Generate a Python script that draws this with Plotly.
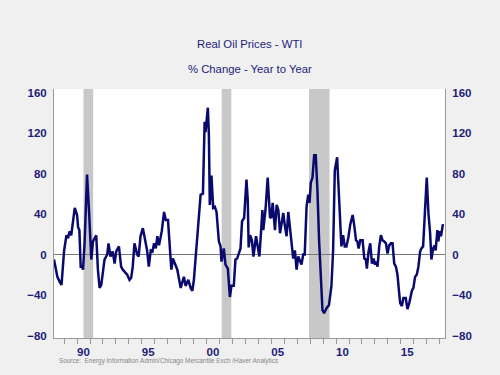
import plotly.graph_objects as go
import pandas as pd

# ---- data ----
years = [
    1988.22, 1988.48, 1988.66, 1988.80, 1989.00, 1989.18, 1989.30, 1989.43, 1989.55, 1989.64,
    1989.82, 1990.00, 1990.08, 1990.18, 1990.28, 1990.40, 1990.46, 1990.58, 1990.77, 1990.92,
    1991.10, 1991.23, 1991.48, 1991.61, 1991.74, 1991.87, 1992.00, 1992.12, 1992.33, 1992.43,
    1992.58, 1992.75, 1992.90, 1993.02, 1993.23, 1993.40, 1993.53, 1993.66, 1993.87, 1994.05,
    1994.18, 1994.30, 1994.43, 1994.64, 1994.75, 1994.90, 1995.08, 1995.20, 1995.41, 1995.54,
    1995.69, 1995.82, 1995.95, 1996.08, 1996.20, 1996.33, 1996.54, 1996.72, 1996.85, 1997.02,
    1997.15, 1997.28, 1997.40, 1997.58, 1997.74, 1998.00, 1998.25, 1998.38, 1998.59, 1998.77,
    1998.90, 1999.02, 1999.28, 1999.54, 1999.72, 1999.85, 1999.92, 2000.10, 2000.18, 2000.25,
    2000.38, 2000.51, 2000.64, 2000.77, 2000.95, 2001.08, 2001.15, 2001.33, 2001.46, 2001.64,
    2001.80, 2001.92, 2002.10, 2002.23, 2002.36, 2002.48, 2002.62, 2002.74, 2002.90, 2003.08,
    2003.18, 2003.25, 2003.36, 2003.50, 2003.62, 2003.82, 2003.95, 2004.08, 2004.20, 2004.31,
    2004.38, 2004.55, 2004.72, 2004.90, 2005.00, 2005.10, 2005.28, 2005.41, 2005.54, 2005.67,
    2005.80, 2005.92, 2006.05, 2006.18, 2006.31, 2006.43, 2006.56, 2006.69, 2006.82, 2006.95,
    2007.08, 2007.20, 2007.33, 2007.46, 2007.58, 2007.72, 2007.85, 2007.95, 2008.05, 2008.18,
    2008.31, 2008.43, 2008.56, 2008.69, 2008.82, 2008.95, 2009.08, 2009.26, 2009.45, 2009.64,
    2009.77, 2009.90, 2010.08, 2010.28, 2010.41, 2010.54, 2010.67, 2010.80, 2010.95, 2011.10,
    2011.28, 2011.41, 2011.54, 2011.64, 2011.74, 2011.87, 2012.05, 2012.18, 2012.30, 2012.38,
    2012.51, 2012.64, 2012.77, 2012.90, 2013.00, 2013.10, 2013.20, 2013.33, 2013.46, 2013.59,
    2013.72, 2013.85, 2013.97, 2014.10, 2014.23, 2014.36, 2014.49, 2014.62, 2014.74, 2014.87,
    2014.95, 2015.08, 2015.20, 2015.38, 2015.51, 2015.65, 2015.85, 2015.97, 2016.10, 2016.23,
    2016.36, 2016.49, 2016.59, 2016.72, 2016.87, 2017.00, 2017.13, 2017.26, 2017.36, 2017.49,
    2017.62, 2017.69, 2017.82, 2017.90, 2018.00, 2018.10, 2018.25,
]
pct_change = [
    -5, -22, -27, -30, 4, 19, 16, 23, 19, 27,
    46, 39, 27, 24, -12, -12, -15, 11, 79, 44,
    -5, 13, 19, -15, -33, -30, -18, -5, 0, 11,
    -2, 3, -9, 3, 8, -12, -15, -17, -20, -25,
    -23, -12, 11, 0, -2, 18, 26, 18, 4, -12,
    4, 3, 11, 6, 18, 9, 23, 42, 34, 34,
    3, -15, -4, -10, -15, -33, -22, -31, -25, -33,
    -36, -25, 19, 59, 60, 131, 121, 145, 118, 49,
    78, 46, 47, 42, 13, 8, -7, 6, -10, -14,
    -42, -31, -31, -5, -4, 0, 6, 33, 36, 74,
    54, 7, 19, 14, -2, 18, 8, -2, 21, 44,
    24, 44, 76, 36, 37, 51, 24, 49, 44, 21,
    31, 41, 28, 18, 42, 28, 8, -4, 4, -15,
    -2, -7, -10, 0, 0, 47, 59, 51, 71, 76,
    98, 98, 64, 14, -25, -55, -58, -53, -50, -31,
    4, 83, 96, 44, 8, 19, 8, 8, 17, 30,
    39, 28, 14, 13, 6, 14, 14, -4, -5, -14,
    3, 11, -9, -4, -10, -7, -12, 8, 19, 14,
    13, 11, 1, 9, 11, 11, -9, -12, -20, -38,
    -48, -51, -43, -43, -54, -48, -36, -33, -22, -20,
    -12, 3, 6, 8, 47, 76, 41, 21, -5, 6,
    9, 4, 24, 13, 23, 18, 30,
]
recession_start = ["1990-07-01", "2001-03-01", "2007-12-01"]
recession_end = ["1991-03-31", "2001-11-30", "2009-06-30"]
x_tick_dates = ["1990-07-01", "1995-07-01", "2000-07-01", "2005-07-01", "2010-07-01", "2015-07-01"]
x_tick_text = ["90", "95", "00", "05", "10", "15"]
y_ticks = [-80, -40, 0, 40, 80, 120, 160]


def to_date(y):
    yr = int(y)
    start = pd.Timestamp(year=yr, month=1, day=1)
    return start + pd.Timedelta(days=(y - yr) * 365.25)


dates = [to_date(y) for y in years]

NAVY = "#1c1c7a"
FONT = "Liberation Sans, Arial, sans-serif"

fig = go.Figure()
fig.add_trace(go.Scatter(x=dates, y=pct_change, mode="lines",
                         line=dict(color="#0a0a6e", width=2.5),
                         hoverinfo="skip", showlegend=False))
fig.add_trace(go.Scatter(x=[dates[0]], y=[0], yaxis="y2", mode="markers",
                         marker=dict(opacity=0), hoverinfo="skip", showlegend=False))

for s, e in zip(recession_start, recession_end):
    fig.add_shape(type="rect", xref="x", yref="paper", x0=s, x1=e, y0=0, y1=1,
                  fillcolor="#c8c8c8", line=dict(width=0), layer="below")

yrange = [-82.5, 163.5]
axis_font = dict(family=FONT, size=11.5, color=NAVY, weight="bold")

fig.update_layout(
    width=500, height=375,
    margin=dict(l=54, r=55, t=89, b=37),
    paper_bgcolor="#f0f0f0", plot_bgcolor="#ffffff",
    xaxis=dict(type="date", range=[to_date(1988.22), to_date(2018.41)],
               tickvals=x_tick_dates, ticktext=x_tick_text, ticks="",
               tickfont=dict(family=FONT, size=11.5, color=NAVY, weight="bold"),
               ticklabelstandoff=3,
               showgrid=False, zeroline=False,
               showline=True, linecolor="#999999", linewidth=1,
               minor=dict(dtick="M12", tick0="1988-01-01", ticks="outside",
                          ticklen=5, tickcolor="#999999", showgrid=False)),
    yaxis=dict(range=yrange, tickvals=y_ticks, ticks="", tickfont=axis_font,
               showgrid=False, zeroline=True, zerolinecolor="#777777", zerolinewidth=1,
               showline=True, linecolor="#999999", linewidth=1, ticklabelstandoff=4),
    yaxis2=dict(range=yrange, tickvals=y_ticks, ticks="", tickfont=axis_font,
                overlaying="y", side="right", showgrid=False, zeroline=False,
                showline=True, linecolor="#999999", linewidth=1, ticklabelstandoff=4),
    annotations=[
        dict(text="Real Oil Prices - WTI", xref="paper", yref="paper", x=0.5, y=1.181,
             showarrow=False, xanchor="center", yanchor="middle",
             font=dict(family=FONT, size=11.3, color=NAVY)),
        dict(text="% Change - Year to Year", xref="paper", yref="paper", x=0.5, y=1.080,
             showarrow=False, xanchor="center", yanchor="middle",
             font=dict(family=FONT, size=11.3, color=NAVY)),
        dict(text="Source:  Energy Information Admin/Chicago Mercantile Exch /Haver Analytics",
             xref="paper", yref="paper", x=0.008, y=-0.092, showarrow=False,
             xanchor="left", yanchor="middle",
             font=dict(family=FONT, size=6.4, color="#858585")),
    ],
)

fig.write_html("out.html", config={"displayModeBar": False},
               post_script="document.body.style.margin='0px';document.body.style.background='#f0f0f0';")
